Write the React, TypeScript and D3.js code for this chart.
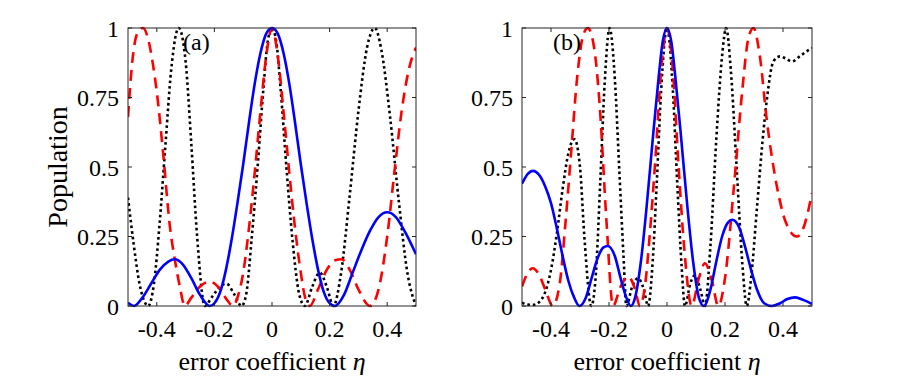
import React from "react";
import * as d3 from "d3";

// panel (a) curves, [eta, population]
const blueA: [number, number][] = [
  [-0.5, 0.012], [-0.479, 0], [-0.45, 0.03], [-0.42, 0.08], [-0.39, 0.13], [-0.36, 0.16], [-0.338, 0.168],
  [-0.31, 0.15], [-0.28, 0.1], [-0.25, 0.04], [-0.216, 0], [-0.2, 0.01], [-0.18, 0.05], [-0.16, 0.13],
  [-0.14, 0.24], [-0.12, 0.37], [-0.1, 0.51], [-0.08, 0.66], [-0.06, 0.8], [-0.04, 0.91], [-0.02, 0.98],
  [0, 1], [0.02, 0.98], [0.04, 0.91], [0.06, 0.8], [0.08, 0.66], [0.1, 0.51], [0.12, 0.37], [0.14, 0.24],
  [0.16, 0.13], [0.18, 0.05], [0.2, 0.01], [0.218, 0], [0.25, 0.04], [0.28, 0.12], [0.31, 0.2],
  [0.34, 0.27], [0.37, 0.32], [0.4, 0.337], [0.43, 0.32], [0.46, 0.27], [0.5, 0.186],
];
const redA: [number, number][] = [
  [-0.5, 0.68], [-0.485, 0.88], [-0.468, 0.98], [-0.448, 1], [-0.43, 0.96], [-0.415, 0.88], [-0.4, 0.77],
  [-0.378, 0.55], [-0.355, 0.29], [-0.338, 0.17], [-0.32, 0.07], [-0.303, 0], [-0.28, 0.03], [-0.25, 0.07],
  [-0.216, 0.088], [-0.18, 0.06], [-0.155, 0.02], [-0.135, 0], [-0.12, 0.03], [-0.1, 0.12], [-0.08, 0.28],
  [-0.06, 0.48], [-0.04, 0.7], [-0.02, 0.9], [0, 1], [0.02, 0.9], [0.04, 0.7], [0.06, 0.48], [0.08, 0.28],
  [0.1, 0.12], [0.115, 0.03], [0.131, 0], [0.16, 0.06], [0.19, 0.13], [0.22, 0.165], [0.241, 0.168],
  [0.27, 0.13], [0.3, 0.06], [0.34, 0], [0.37, 0.06], [0.4, 0.25], [0.427, 0.5], [0.45, 0.7],
  [0.475, 0.85], [0.5, 0.93],
];
const blackA: [number, number][] = [
  [-0.5, 0.39], [-0.48, 0.22], [-0.46, 0.08], [-0.44, 0.01], [-0.43, 0], [-0.41, 0.08], [-0.39, 0.3],
  [-0.37, 0.58], [-0.35, 0.85], [-0.324, 1], [-0.3, 0.88], [-0.28, 0.58], [-0.26, 0.25], [-0.233, 0],
  [-0.21, 0.03], [-0.18, 0.07], [-0.158, 0.08], [-0.13, 0.04], [-0.106, 0], [-0.09, 0.04], [-0.07, 0.25],
  [-0.05, 0.5], [-0.03, 0.78], [-0.015, 0.95], [0, 1], [0.015, 0.95], [0.03, 0.78], [0.05, 0.5],
  [0.07, 0.25], [0.095, 0.04], [0.114, 0], [0.14, 0.07], [0.166, 0.12], [0.19, 0.07], [0.213, 0],
  [0.24, 0.12], [0.27, 0.4], [0.3, 0.7], [0.33, 0.93], [0.357, 1], [0.38, 0.92], [0.41, 0.68],
  [0.44, 0.38], [0.47, 0.12], [0.5, 0],
];

// panel (b)
const blueB: [number, number][] = [
  [-0.5, 0.44], [-0.48, 0.475], [-0.463, 0.486], [-0.44, 0.47], [-0.42, 0.43], [-0.4, 0.37], [-0.38, 0.28],
  [-0.36, 0.18], [-0.34, 0.09], [-0.32, 0.03], [-0.302, 0], [-0.28, 0.03], [-0.26, 0.1], [-0.24, 0.17],
  [-0.22, 0.21], [-0.204, 0.216], [-0.18, 0.18], [-0.16, 0.1], [-0.14, 0.03], [-0.125, 0], [-0.11, 0.03],
  [-0.09, 0.16], [-0.07, 0.36], [-0.05, 0.59], [-0.03, 0.81], [-0.015, 0.95], [0, 1], [0.015, 0.95],
  [0.03, 0.81], [0.05, 0.59], [0.07, 0.36], [0.09, 0.16], [0.11, 0.03], [0.127, 0], [0.15, 0.06],
  [0.17, 0.16], [0.19, 0.25], [0.21, 0.3], [0.225, 0.31], [0.25, 0.28], [0.27, 0.21], [0.29, 0.13],
  [0.31, 0.06], [0.335, 0.01], [0.362, 0], [0.39, 0.01], [0.415, 0.025], [0.442, 0.031], [0.47, 0.022],
  [0.5, 0.007],
];
const redB: [number, number][] = [
  [-0.5, 0.07], [-0.48, 0.12], [-0.463, 0.136], [-0.44, 0.11], [-0.42, 0.06], [-0.394, 0], [-0.37, 0.08],
  [-0.35, 0.3], [-0.33, 0.56], [-0.31, 0.82], [-0.29, 0.97], [-0.273, 1], [-0.25, 0.92], [-0.232, 0.72],
  [-0.209, 0.31], [-0.186, 0], [-0.16, 0.07], [-0.134, 0.106], [-0.11, 0.06], [-0.094, 0], [-0.075, 0.08],
  [-0.06, 0.25], [-0.04, 0.53], [-0.02, 0.85], [0, 1], [0.02, 0.85], [0.04, 0.5], [0.06, 0.2],
  [0.085, 0], [0.11, 0.1], [0.131, 0.154], [0.155, 0.09], [0.177, 0], [0.2, 0.1], [0.23, 0.42],
  [0.26, 0.78], [0.28, 0.96], [0.298, 1], [0.32, 0.9], [0.344, 0.67], [0.379, 0.43], [0.41, 0.3],
  [0.448, 0.25], [0.47, 0.28], [0.5, 0.406],
];
const blackB: [number, number][] = [
  [-0.5, 0.012], [-0.48, 0.005], [-0.46, 0.004], [-0.44, 0.015], [-0.42, 0.05], [-0.4, 0.13], [-0.38, 0.26],
  [-0.36, 0.42], [-0.34, 0.55], [-0.319, 0.6], [-0.3, 0.5], [-0.285, 0.25], [-0.261, 0], [-0.245, 0.12],
  [-0.23, 0.45], [-0.215, 0.8], [-0.198, 1], [-0.18, 0.82], [-0.165, 0.5], [-0.15, 0.18], [-0.14, 0],
  [-0.12, 0.07], [-0.1, 0.1], [-0.08, 0.06], [-0.065, 0], [-0.05, 0.15], [-0.035, 0.45], [-0.02, 0.78],
  [0, 1], [0.02, 0.78], [0.035, 0.45], [0.05, 0.15], [0.062, 0], [0.08, 0.08], [0.096, 0.11],
  [0.115, 0.06], [0.131, 0], [0.15, 0.22], [0.17, 0.6], [0.19, 0.9], [0.204, 1], [0.22, 0.85],
  [0.24, 0.5], [0.26, 0.15], [0.275, 0], [0.29, 0.1], [0.31, 0.35], [0.33, 0.6], [0.344, 0.74],
  [0.367, 0.88], [0.39, 0.898], [0.41, 0.89], [0.431, 0.88], [0.46, 0.9], [0.48, 0.915], [0.5, 0.928],
];

const xTicks = [-0.4, -0.2, 0, 0.2, 0.4];
const yTicks = [0, 0.25, 0.5, 0.75, 1];
const xTickLabels = ["-0.4", "-0.2", "0", "0.2", "0.4"];
const yTickLabels = ["0", "0.25", "0.5", "0.75", "1"];

const font = "'Liberation Serif', 'Times New Roman', serif";
const top = 28;
const bottom = 306;

function Panel({ left, right, tag, blue, red, black }: any) {
  const x = d3.scaleLinear().domain([-0.5, 0.5]).range([left, right]);
  const y = d3.scaleLinear().domain([0, 1]).range([bottom, top]);
  const line = d3.line<[number, number]>()
    .x((d) => x(d[0]))
    .y((d) => y(d[1]))
    .curve(d3.curveMonotoneX);
  const clipId = "clip" + tag;
  return (
    <g>
      <defs>
        <clipPath id={clipId}>
          <rect x={left} y={top - 2} width={right - left} height={bottom - top + 4} />
        </clipPath>
      </defs>
      <g clipPath={`url(#${clipId})`} fill="none" strokeWidth={2.6}>
        <path d={line(black) || ""} stroke="#000" strokeDasharray="2.6 3" />
        <path d={line(red) || ""} stroke="#ff0000" strokeDasharray="11 7" />
        <path d={line(blue) || ""} stroke="#0000ff" />
      </g>
      <rect x={left} y={top} width={right - left} height={bottom - top} fill="none" stroke="#262626" strokeWidth={1} />
      {xTicks.map((t) => (
        <g key={"xt" + t} stroke="#262626">
          <line x1={x(t)} x2={x(t)} y1={bottom} y2={bottom - 4} />
          <line x1={x(t)} x2={x(t)} y1={top} y2={top + 4} />
        </g>
      ))}
      {yTicks.map((t) => (
        <g key={"yt" + t} stroke="#262626">
          <line x1={left} x2={left + 4} y1={y(t)} y2={y(t)} />
          <line x1={right} x2={right - 4} y1={y(t)} y2={y(t)} />
        </g>
      ))}
      {xTicks.map((t, i) => (
        <text key={"xl" + t} x={x(t)} y={337} textAnchor="middle" fontSize={24} fontFamily={font} fill="#000">
          {xTickLabels[i]}
        </text>
      ))}
      {yTicks.map((t, i) => (
        <text key={"yl" + t} x={left - 9} y={y(t) + 8.5} textAnchor="end" fontSize={24} fontFamily={font} fill="#000">
          {yTickLabels[i]}
        </text>
      ))}
      <text x={(left + right) / 2} y={370} textAnchor="middle" fontSize={26} fontFamily={font} fill="#000">
        error coefficient <tspan fontStyle="italic">η</tspan>
      </text>
      <text x={x(-0.5) + (tag === "a" ? 55 : 31)} y={50} fontSize={24} fontFamily={font} fill="#000">
        ({tag})
      </text>
    </g>
  );
}

export default function App() {
  return (
    <svg width={897} height={377} style={{ position: "absolute", left: 0, top: 0, background: "#fff" }}>
      <rect width={897} height={377} fill="#fff" />
      <text transform="translate(67,167) rotate(-90)" textAnchor="middle" fontSize={28} fontFamily={font} fill="#000">
        Population
      </text>
      <Panel left={128} right={416} tag="a" blue={blueA} red={redA} black={blackA} />
      <Panel left={522} right={812} tag="b" blue={blueB} red={redB} black={blackB} />
    </svg>
  );
}
